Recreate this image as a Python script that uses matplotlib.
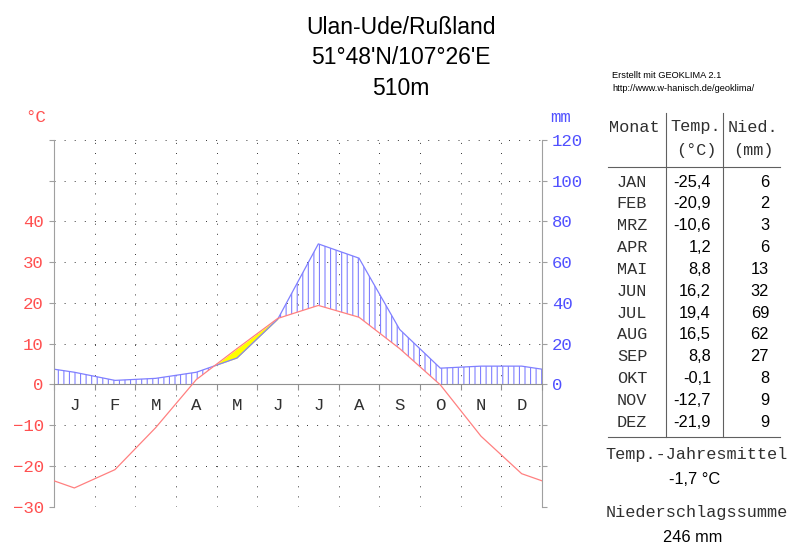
import numpy as np
import matplotlib
matplotlib.use('Agg')
import matplotlib.pyplot as plt
from matplotlib.lines import Line2D

station = ['Ulan-Ude/Rußland', "51°48'N/107°26'E", '510m']
month_letters = ['J', 'F', 'M', 'A', 'M', 'J', 'J', 'A', 'S', 'O', 'N', 'D']
month_names = ['JAN', 'FEB', 'MRZ', 'APR', 'MAI', 'JUN', 'JUL', 'AUG', 'SEP', 'OKT', 'NOV', 'DEZ']
temp = [-25.4, -20.9, -10.6, 1.2, 8.8, 16.2, 19.4, 16.5, 8.8, -0.1, -12.7, -21.9]
prec = [6, 2, 3, 6, 13, 32, 69, 62, 27, 8, 9, 9]
temp_mean = '-1,7 °C'
prec_sum = '246 mm'

TCOL = '#ff5050'
PCOL = '#5050ff'
MONO = 'Liberation Mono'
SANS = 'Liberation Sans'
W, H = 800, 557

def fx(x):
	return x / W

def fy(y):
	return 1 - y / H

fig = plt.figure(figsize=(8, 5.57), dpi=100)
ax = fig.add_axes([fx(54), fy(506.7), (542 - 54) / W, (506.7 - 140) / H])
ax2 = ax.twinx()

# month centres, wrapped round so the lines run to the edges
xc = np.arange(12) + 0.5
xw = np.concatenate([[-0.5], xc, [12.5]])
tw = np.array([temp[-1]] + temp + [temp[0]])
pw = np.array([prec[-1]] + prec + [prec[0]])

ax.set_xlim(0, 12)
ax.set_ylim(-30, 60)
ax2.set_ylim(-60, 120)

# dotted grid
dot = dict(color='#404040', lw=0.72, linestyle=(0, (1, 9.1)), zorder=0)
for v in [-60, -40, -20, 20, 40, 60, 80, 100, 120]:
	ax2.axhline(v, **dot)
for m in range(1, 12):
	ax2.axvline(m, **dot)

# humid (hatched) and arid (yellow) areas
xf = np.linspace(0, 12, 1201)
tf = np.interp(xf, xw, tw)
pf = np.interp(xf, xw, pw)
low = 2 * np.maximum(tf, 0)
plt.rcParams['hatch.linewidth'] = 0.8
ax2.fill_between(xf, pf, low, where=pf >= low, interpolate=True,
	facecolor='none', edgecolor='#8080ff', hatch='|||', linewidth=0, zorder=1)
ax2.fill_between(xf, 2 * tf, pf, where=2 * tf > pf, interpolate=True,
	color='#ffff00', linewidth=0, zorder=1)
ax2.plot(xw, pw, color='#8080ff', lw=0.9, zorder=2)

ax.set_zorder(ax2.get_zorder() + 1)
ax.patch.set_visible(False)
ax.plot(xw, tw, color='#ff8080', lw=0.9, zorder=3)

# spines
for s in ['top', 'right']:
	ax.spines[s].set_visible(False)
for s in ['top', 'left', 'bottom']:
	ax2.spines[s].set_visible(False)
ax.spines['left'].set_color('#a0a0a0')
ax2.spines['right'].set_color('#a0a0a0')
ax.spines['bottom'].set_position(('data', 0))
ax.spines['bottom'].set_color('#909090')

# ticks
tvals = list(range(-30, 61, 10))
ax.set_yticks(tvals)
ax.set_yticklabels([str(v).replace('-', '\u2212') if v <= 40 else '' for v in tvals],
	family=MONO, fontsize=12.5, color=TCOL)
ax.tick_params(axis='y', length=3.3, width=0.8, color='#a0a0a0', pad=4)
pvals = list(range(-60, 121, 20))
ax2.set_yticks(pvals)
ax2.set_yticklabels([str(v) if v >= 0 else '' for v in pvals],
	family=MONO, fontsize=12.5, color=PCOL)
ax2.tick_params(axis='y', length=3.3, width=0.8, color='#a0a0a0', pad=4)

ax.set_xticks(range(13))
ax.set_xticklabels([''] * 13)
ax.set_xticks(xc, minor=True)
ax.set_xticklabels(month_letters, minor=True, family=MONO, fontsize=12.5, color='#303030')
ax.tick_params(axis='x', which='major', length=4.5, width=0.8, color='#909090')
ax.tick_params(axis='x', which='minor', length=0, pad=10)

fig.text(fx(36), fy(117), '°C', family=MONO, fontsize=12.5, color=TCOL, ha='center', va='center')
fig.text(fx(561), fy(118), 'mm', family=MONO, fontsize=12.5, color=PCOL, ha='center', va='center')

# title
for i, line in enumerate(station):
	fig.text(fx(401), fy(27 + 31 * i), line, family=SANS, fontsize=16.5, ha='center', va='center')

fig.text(fx(612), fy(76), 'Erstellt mit GEOKLIMA 2.1', family=SANS, fontsize=6.7, va='center')
fig.text(fx(612), fy(89), 'http://www.w-hanisch.de/geoklima/', family=SANS, fontsize=6.7, va='center')

# table
tc = '#303030'
fs = 12.2
fig.text(fx(634), fy(127), 'Monat', family=MONO, fontsize=fs, color=tc, ha='center', va='center')
fig.text(fx(696), fy(127), 'Temp.', family=MONO, fontsize=fs, color=tc, ha='center', va='center')
fig.text(fx(753), fy(127), 'Nied.', family=MONO, fontsize=fs, color=tc, ha='center', va='center')
fig.text(fx(696), fy(150), '(°C)', family=MONO, fontsize=fs, color=tc, ha='center', va='center')
fig.text(fx(753), fy(150), '(mm)', family=MONO, fontsize=fs, color=tc, ha='center', va='center')

for i in range(12):
	y = fy(182 + 21.85 * i)
	fig.text(fx(632), y, month_names[i], family=MONO, fontsize=fs, color=tc, ha='center', va='center')
	fig.text(fx(711), y, f'{temp[i]:.1f}'.replace('.', ','), family=SANS, fontsize=11.8, ha='right', va='center')
	fig.text(fx(769), y, str(prec[i]), family=SANS, fontsize=11.8, ha='right', va='center')

lc = '#606060'
for x in [666, 723]:
	fig.add_artist(Line2D([fx(x), fx(x)], [fy(113), fy(437)], color=lc, lw=0.8))
for y in [167, 437]:
	fig.add_artist(Line2D([fx(608), fx(780)], [fy(y), fy(y)], color=lc, lw=0.8))

fig.text(fx(697), fy(455), 'Temp.-Jahresmittel', family=MONO, fontsize=fs, color=tc, ha='center', va='center')
fig.text(fx(695), fy(480), temp_mean, family=SANS, fontsize=11.8, ha='center', va='center')
fig.text(fx(697), fy(513), 'Niederschlagssumme', family=MONO, fontsize=fs, color=tc, ha='center', va='center')
fig.text(fx(693), fy(537), prec_sum, family=SANS, fontsize=11.8, ha='center', va='center')

fig.savefig('out.png', dpi=100, facecolor='white')
